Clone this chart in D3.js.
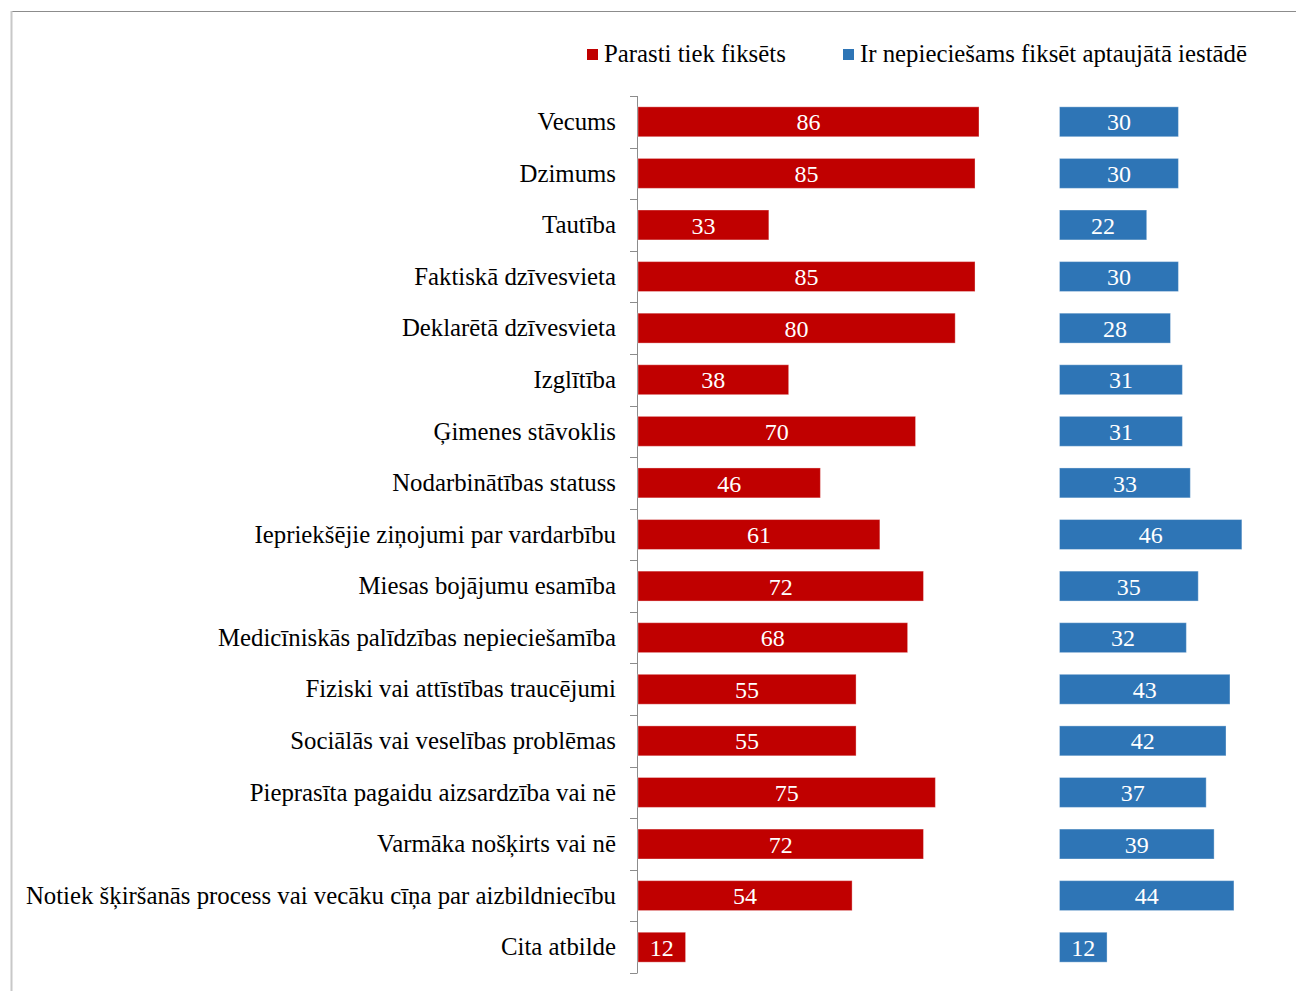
<!DOCTYPE html>
<html>
<head>
<meta charset="utf-8">
<script src="https://cdn.jsdelivr.net/npm/d3@7"></script>
<style>
  body { margin: 0; background: #fff; }
  text { font-family: "Liberation Serif", "Times New Roman", serif; }
</style>
</head>
<body>
<div id="chart"></div>
<script>
// data
var categories = ["Vecums", "Dzimums", "Tautība", "Faktiskā dzīvesvieta", "Deklarētā dzīvesvieta",
                  "Izglītība", "Ģimenes stāvoklis", "Nodarbinātības statuss",
                  "Iepriekšējie ziņojumi par vardarbību", "Miesas bojājumu esamība",
                  "Medicīniskās palīdzības nepieciešamība", "Fiziski vai attīstības traucējumi",
                  "Sociālās vai veselības problēmas", "Pieprasīta pagaidu aizsardzība vai nē",
                  "Varmāka nošķirts vai nē", "Notiek šķiršanās process vai vecāku cīņa par aizbildniecību",
                  "Cita atbilde"]
var usual = [86, 85, 33, 85, 80, 38, 70, 46, 61, 72, 68, 55, 55, 75, 72, 54, 12]
var needed = [30, 30, 22, 30, 28, 31, 31, 33, 46, 35, 32, 43, 42, 37, 39, 44, 12]
var seriesNames = ["Parasti tiek fiksēts", "Ir nepieciešams fiksēt aptaujātā iestādē"]
var colors = ["#C00000", "#2E75B6"]
var blueOffset = 106.3 // second column starts this many units right of the axis

var width = 1296
    height = 991

var svg = d3.select("#chart")
  .append("svg")
    .attr("width", width)
    .attr("height", height)

// outer frame
svg.append("line").attr("x1", 11).attr("x2", width).attr("y1", 11.5).attr("y2", 11.5)
  .attr("stroke", "#8c8c8c").attr("stroke-width", 1.2)
svg.append("line").attr("x1", 11.5).attr("x2", 11.5).attr("y1", 11).attr("y2", height)
  .attr("stroke", "#c8c8c8").attr("stroke-width", 2)

var x = d3.scaleLinear()
  .domain([0, 166])
  .range([638, 638 + 166 * 3.965])

var y = d3.scaleBand()
  .domain(categories)
  .range([96, 973])
  .paddingInner(0.42)
  .paddingOuter(0.21)

// y axis with ticks between categories
var axis = svg.append("g")
axis.append("line")
  .attr("x1", 637.5).attr("x2", 637.5)
  .attr("y1", 96).attr("y2", 973)
  .attr("stroke", "#8c8c8c")
var step = y.step()
axis.selectAll(".tk")
  .data(d3.range(categories.length + 1))
  .enter()
  .append("line")
    .attr("x1", 630).attr("x2", 637.5)
    .attr("y1", function(i) { return Math.round(96 + i * step) + 0.5 })
    .attr("y2", function(i) { return Math.round(96 + i * step) + 0.5 })
    .attr("stroke", "#8c8c8c")

svg.selectAll(".cat")
  .data(categories)
  .enter()
  .append("text")
    .attr("x", 616)
    .attr("y", function(d) { return y(d) + y.bandwidth() / 2 })
    .attr("dy", "0.33em")
    .attr("text-anchor", "end")
    .style("font-size", "24.8px")
    .style("fill", "#000")
    .text(function(d) { return d })

// bars
var rows = categories.map(function(c, i) { return {cat: c, a: usual[i], b: needed[i]} })

function drawSeries(key, start, color) {
  var g = svg.append("g")
  g.selectAll("rect")
    .data(rows)
    .enter()
    .append("rect")
      .attr("x", function(d) { return x(start) })
      .attr("y", function(d) { return y(d.cat) })
      .attr("width", function(d) { return x(start + d[key]) - x(start) })
      .attr("height", y.bandwidth())
      .attr("fill", color)
      .attr("stroke", "#ffffff")
      .attr("stroke-opacity", 0.35)
      .attr("stroke-width", 1)
  g.selectAll("text")
    .data(rows)
    .enter()
    .append("text")
      .attr("x", function(d) { return (x(start) + x(start + d[key])) / 2 })
      .attr("y", function(d) { return y(d.cat) + y.bandwidth() / 2 })
      .attr("dy", "0.36em")
      .attr("text-anchor", "middle")
      .style("font-size", "24px")
      .style("fill", "#fff")
      .text(function(d) { return d[key] })
}
drawSeries("a", 0, colors[0])
drawSeries("b", blueOffset, colors[1])

// legend
var legendX = [587, 843]
seriesNames.forEach(function(name, i) {
  svg.append("rect")
    .attr("x", legendX[i]).attr("y", 49)
    .attr("width", 11).attr("height", 11)
    .attr("fill", colors[i])
  svg.append("text")
    .attr("x", legendX[i] + 17).attr("y", 62)
    .style("font-size", "24.8px")
    .style("fill", "#000")
    .text(name)
})
</script>
</body>
</html>
